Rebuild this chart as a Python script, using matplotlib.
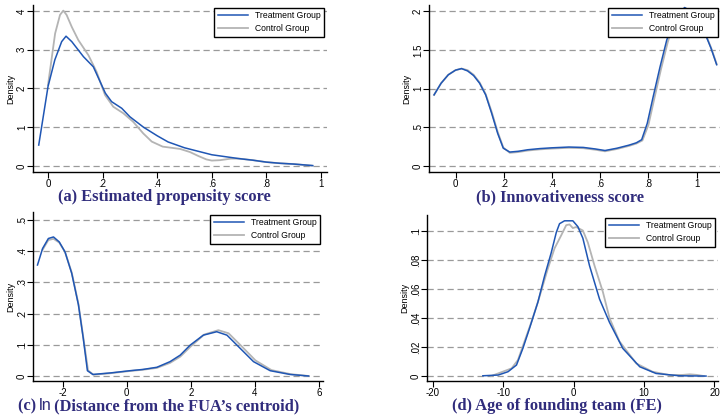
import numpy as np
import matplotlib.pyplot as plt

# (a) Estimated propensity score
a_tx = [-0.034, 0.0, 0.025, 0.05, 0.066, 0.087, 0.13, 0.166, 0.21, 0.233, 0.27, 0.30,
        0.35, 0.40, 0.44, 0.50, 0.55, 0.60, 0.65, 0.70, 0.75, 0.80, 0.85, 0.90, 0.97]
a_ty = [0.54, 2.05, 2.74, 3.21, 3.35, 3.21, 2.82, 2.56, 1.88, 1.66, 1.49, 1.27,
        1.00, 0.78, 0.62, 0.47, 0.38, 0.29, 0.24, 0.19, 0.15, 0.10, 0.07, 0.05, 0.01]
a_cx = [0.0, 0.026, 0.044, 0.056, 0.068, 0.087, 0.111, 0.148, 0.178, 0.209, 0.239, 0.276,
        0.312, 0.349, 0.38, 0.42, 0.484, 0.52, 0.55, 0.58, 0.60, 0.63, 0.67, 0.70, 0.75,
        0.80, 0.85, 0.90, 0.966]
a_cy = [2.09, 3.42, 3.90, 4.01, 3.90, 3.59, 3.25, 2.86, 2.43, 1.83, 1.53, 1.36,
        1.14, 0.84, 0.63, 0.50, 0.44, 0.36, 0.26, 0.17, 0.14, 0.15, 0.19, 0.19, 0.15,
        0.10, 0.07, 0.05, 0.01]

# (b) Innovativeness score
b_tx = [-0.089, -0.06, -0.03, 0.0, 0.025, 0.05, 0.075, 0.10, 0.125, 0.15, 0.175, 0.198,
        0.225, 0.26, 0.30, 0.35, 0.40, 0.47, 0.53, 0.58, 0.62, 0.67, 0.72, 0.75, 0.772,
        0.795, 0.82, 0.848, 0.876, 0.91, 0.95, 0.99, 1.034, 1.06, 1.083]
b_ty = [0.92, 1.07, 1.18, 1.24, 1.26, 1.23, 1.17, 1.07, 0.92, 0.68, 0.42, 0.23,
        0.18, 0.19, 0.21, 0.225, 0.235, 0.245, 0.24, 0.22, 0.20, 0.23, 0.27, 0.30, 0.34,
        0.55, 0.90, 1.28, 1.63, 1.92, 2.05, 1.98, 1.72, 1.52, 1.31]
b_cx = [-0.089, -0.06, -0.03, 0.0, 0.025, 0.05, 0.075, 0.10, 0.125, 0.15, 0.175, 0.198,
        0.225, 0.26, 0.30, 0.35, 0.40, 0.47, 0.53, 0.58, 0.62, 0.67, 0.72, 0.75, 0.775,
        0.80, 0.825, 0.852, 0.88, 0.91, 0.95, 0.99, 1.034, 1.06, 1.083]
b_cy = [0.92, 1.07, 1.18, 1.24, 1.26, 1.24, 1.18, 1.08, 0.93, 0.70, 0.44, 0.24,
        0.17, 0.18, 0.20, 0.215, 0.225, 0.235, 0.23, 0.21, 0.19, 0.22, 0.26, 0.29, 0.33,
        0.53, 0.88, 1.25, 1.60, 1.90, 2.04, 1.98, 1.73, 1.53, 1.32]

# (c) ln (Distance from the FUA's centroid)
c_tx = [-2.79, -2.63, -2.45, -2.29, -2.11, -1.93, -1.72, -1.51, -1.36, -1.23, -1.06,
        -0.5, 0.10, 0.5, 0.94, 1.35, 1.67, 1.98, 2.39, 2.81, 3.13, 3.54, 3.96, 4.48,
        5.10, 5.68]
c_ty = [0.356, 0.409, 0.441, 0.446, 0.43, 0.398, 0.329, 0.228, 0.121, 0.017, 0.005,
        0.010, 0.017, 0.021, 0.028, 0.046, 0.067, 0.099, 0.131, 0.142, 0.131, 0.089,
        0.046, 0.017, 0.005, 0.0]
c_cx = [-2.63, -2.45, -2.29, -2.11, -1.93, -1.72, -1.51, -1.36, -1.21, -1.04,
        -0.5, 0.10, 0.5, 0.94, 1.35, 1.67, 2.0, 2.42, 2.86, 3.18, 3.6, 4.02, 4.52,
        5.12, 5.68]
c_cy = [0.405, 0.436, 0.440, 0.428, 0.398, 0.332, 0.231, 0.125, 0.018, 0.004,
        0.009, 0.016, 0.020, 0.026, 0.042, 0.062, 0.095, 0.133, 0.147, 0.137, 0.094,
        0.050, 0.019, 0.006, 0.0]

# (d) Age of founding team (FE)
d_tx = [-12.87, -10.7, -9.3, -8.1, -7.2, -6.24, -5.06, -4.11, -3.17, -2.45, -1.99,
        -1.28, -0.1, 0.61, 1.32, 2.27, 3.69, 5.1, 7.0, 9.4, 11.7, 15.0, 18.8]
d_ty = [0.0002, 0.0007, 0.003, 0.0076, 0.019, 0.033, 0.051, 0.069, 0.085, 0.099, 0.105,
        0.107, 0.107, 0.103, 0.095, 0.076, 0.053, 0.037, 0.019, 0.0064, 0.0018, 0.0002, 0.0]
d_cx = [-11.7, -8.8, -7.9, -6.95, -6.0, -5.06, -3.65, -2.7, -1.75, -1.04, -0.57, -0.1,
        0.38, 1.32, 2.03, 2.98, 4.16, 5.1, 6.5, 8.9, 11.2, 13.6, 15.5, 16.5, 17.5, 18.5]
d_cy = [0.0, 0.0053, 0.011, 0.024, 0.037, 0.051, 0.074, 0.088, 0.097, 0.104, 0.1045, 0.102,
        0.1027, 0.1003, 0.092, 0.076, 0.058, 0.040, 0.024, 0.0087, 0.003, 0.0007, 0.0008,
        0.0012, 0.0008, 0.0]

panels = [
    dict(pos=[33, 5, 327, 172], tx=a_tx, ty=a_ty, cx=a_cx, cy=a_cy, xlim=(-0.055, 1.022),
         ylim=(-0.155, 4.155), xt=[0, .2, .4, .6, .8, 1], xl=['0', '.2', '.4', '.6', '.8', '1'],
         yt=[0, 1, 2, 3, 4], yl=['0', '1', '2', '3', '4']),
    dict(pos=[429, 5, 721, 172], tx=b_tx, ty=b_ty, cx=b_cx, cy=b_cy, xlim=(-0.11, 1.101),
         ylim=(-0.078, 2.083), xt=[0, .2, .4, .6, .8, 1], xl=['0', '.2', '.4', '.6', '.8', '1'],
         yt=[0, .5, 1, 1.5, 2], yl=['0', '.5', '1', '1.5', '2']),
    dict(pos=[33, 212, 323, 381], tx=c_tx, ty=c_ty, cx=c_cx, cy=c_cy, xlim=(-2.93, 6.13),
         ylim=(-0.016, 0.526), xt=[-2, 0, 2, 4, 6], xl=['-2', '0', '2', '4', '6'],
         yt=[0, .1, .2, .3, .4, .5], yl=['0', '.1', '.2', '.3', '.4', '.5']),
    dict(pos=[427, 215, 718, 381], tx=d_tx, ty=d_ty, cx=d_cx, cy=d_cy, xlim=(-20.8, 20.5),
         ylim=(-0.0034, 0.111), xt=[-20, -10, 0, 10, 20], xl=['-20', '-10', '0', '10', '20'],
         yt=[0, .02, .04, .06, .08, .1], yl=['0', '.02', '.04', '.06', '.08', '.1']),
]

W, H = 720, 415
fig = plt.figure(figsize=(7.2, 4.15), dpi=100)
sans = 'Liberation Sans'
blue = '#1f56b4'
grey = '#b4b4b4'

for p in panels:
    l, t, r, b = p['pos']
    ax = fig.add_axes([l / W, 1 - b / H, (r - l) / W, (b - t) / H])
    ax.plot(p['cx'], p['cy'], color=grey, lw=1.3, label='Control Group', zorder=2)
    ax.plot(p['tx'], p['ty'], color=blue, lw=1.1, label='Treatment Group', zorder=3)
    ax.set_xlim(p['xlim'])
    ax.set_ylim(p['ylim'])
    ax.set_xticks(p['xt'])
    ax.set_xticklabels(p['xl'], fontfamily=sans, fontsize=7)
    ax.set_yticks(p['yt'])
    ax.set_yticklabels(p['yl'], fontfamily=sans, fontsize=7, rotation=90, va='center')
    for y in p['yt']:
        ax.axhline(y, color='#9a9a9a', lw=0.9, ls=(0, (5, 3)), zorder=1)
    ax.spines['top'].set_visible(False)
    ax.spines['right'].set_visible(False)
    ax.spines['left'].set_linewidth(1.0)
    ax.spines['bottom'].set_linewidth(1.0)
    ax.tick_params(axis='x', length=4, width=0.8, pad=0.8)
    ax.tick_params(axis='y', length=4, width=0.8, pad=0.3)
    ax.set_ylabel('Density', fontfamily=sans, fontsize=6.5, labelpad=1)
    h, lab = ax.get_legend_handles_labels()
    leg = ax.legend(h[::-1], lab[::-1], loc='upper right', prop={'family': sans, 'size': 6.2},
                    fancybox=False, framealpha=1, edgecolor='black', handlelength=3.5,
                    borderpad=0.45, labelspacing=0.45, handletextpad=0.8, borderaxespad=0.3)
    leg.get_frame().set_linewidth(1.0)
    leg.set_zorder(5)

title_col = '#302c7c'
serif = 'Liberation Serif'
tsize = 11.8
fig.text(164 / W, 1 - 201 / H, '(a) Estimated propensity score', ha='center', va='baseline',
         fontfamily=serif, fontweight='bold', fontsize=tsize, color=title_col)
fig.text(560 / W, 1 - 201 / H, '(b) Innovativeness score', ha='center', va='baseline',
         fontfamily=serif, fontweight='bold', fontsize=tsize, color=title_col)
fig.text(557 / W, 1 - 410 / H, '(d) Age of founding team (FE)', ha='center', va='baseline',
         fontfamily=serif, fontweight='bold', fontsize=tsize, color=title_col)

# (c) title is mixed: serif bold, then sans "ln", then serif bold
r = fig.canvas.get_renderer()
parts = [('(c) ', serif, 'bold'), ('ln', sans, 'normal'),
         (' (Distance from the FUA\u2019s centroid)', serif, 'bold')]
xpos = 18
for txt, fam, wt in parts:
    tt = fig.text(xpos / W, 1 - 410 / H, txt, ha='left', va='baseline', fontfamily=fam,
                  fontweight=wt, fontsize=tsize, color=title_col)
    bb = tt.get_window_extent(renderer=r)
    xpos += bb.width - 1.5

fig.savefig('out.png', dpi=100)
